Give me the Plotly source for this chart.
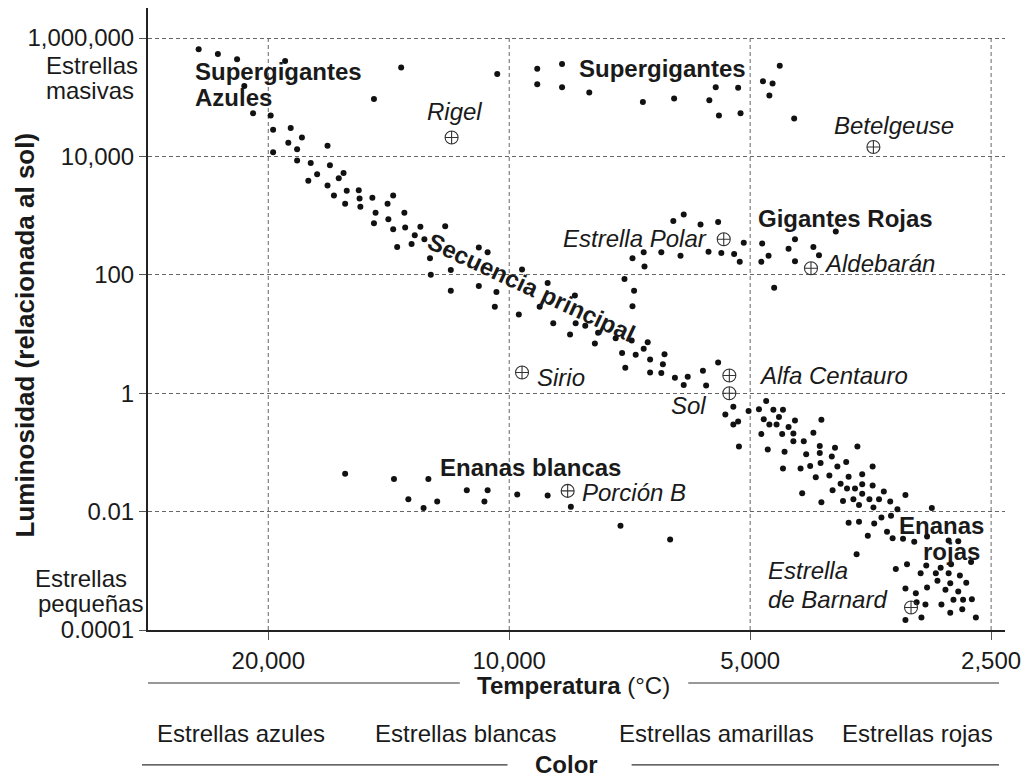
import numpy as np
import plotly.graph_objects as go

FONT = "Liberation Sans, Arial, Helvetica, sans-serif"
INK = "#1a1a1a"

# ---- Readings: log10(temperature) and log10(luminosity / sun) ----
supergiant_logT = [4.388, 4.364, 4.340, 4.280, 4.331, 4.169, 4.135, 4.015, 3.965, 3.934,
                   3.965, 3.934, 3.900, 3.833, 3.794, 3.750, 3.742, 3.714, 3.738, 3.711,
                   3.683, 3.671, 3.675, 3.662, 3.644]
supergiant_logL = [5.81, 5.73, 5.64, 5.61, 5.19, 4.97, 5.50, 5.39, 5.48, 5.56,
                   5.22, 5.17, 5.08, 4.92, 4.98, 4.95, 5.17, 5.16, 4.69, 4.73,
                   5.27, 5.23, 5.03, 5.53, 4.64]

main_seq_logT = [4.320, 4.298, 4.295, 4.273, 4.259, 4.276, 4.265, 4.227, 4.295, 4.265,
                 4.248, 4.224, 4.240, 4.207, 4.213, 4.251, 4.227, 4.203, 4.188, 4.219,
                 4.187, 4.171, 4.145, 4.205, 4.186, 4.152, 4.167, 4.151, 4.169, 4.145,
                 4.140, 4.131, 4.130, 4.111, 4.080, 4.118, 4.106, 4.122, 4.038, 4.027,
                 4.099, 4.098, 4.073, 4.073, 4.038, 4.016, 4.018, 3.988, 3.984, 3.952,
                 3.918, 3.962, 3.945, 3.917, 3.905, 3.889, 3.924, 3.867, 3.847, 3.827,
                 3.893, 3.832, 3.859, 3.842, 3.806, 3.824, 3.808, 3.855, 3.824, 3.810,
                 3.739, 3.758, 3.793, 3.777, 3.782, 3.754,
                 3.730, 3.720, 3.701, 3.688, 3.679, 3.670, 3.658, 3.682, 3.663, 3.643,
                 3.610, 3.720, 3.714, 3.675, 3.666, 3.651, 3.685, 3.659, 3.645, 3.620,
                 3.645, 3.632, 3.713, 3.677, 3.656, 3.612, 3.593, 3.565, 3.629, 3.612,
                 3.597, 3.658, 3.636, 3.624, 3.611, 3.590, 3.579, 3.546, 3.617, 3.600,
                 3.576, 3.559, 3.634, 3.596, 3.586, 3.578, 3.568, 3.559, 3.546, 3.610,
                 3.583, 3.570, 3.559, 3.550, 3.538, 3.532, 3.524, 3.505, 3.563, 3.545,
                 3.515, 3.472, 3.576, 3.563, 3.544, 3.535, 3.523, 3.528, 3.552, 3.521,
                 3.508, 3.494, 3.478, 3.451, 3.439, 3.423, 3.448, 3.566, 3.517, 3.503,
                 3.479, 3.461, 3.486, 3.467, 3.451, 3.437, 3.465, 3.449, 3.429, 3.505,
                 3.492, 3.478, 3.455, 3.439, 3.480, 3.460, 3.445, 3.433, 3.422, 3.505,
                 3.485, 3.449, 3.434, 3.417, 3.491]
main_seq_logL = [4.73, 4.69, 4.45, 4.48, 4.32, 4.23, 4.12, 4.18, 4.07, 3.93,
                 3.89, 3.85, 3.70, 3.72, 3.63, 3.59, 3.51, 3.42, 3.43, 3.34,
                 3.29, 3.30, 3.34, 3.20, 3.15, 3.20, 3.05, 2.94, 2.87, 2.77,
                 2.47, 3.05, 2.80, 2.81, 2.82, 2.67, 2.60, 2.52, 2.46, 2.38,
                 2.28, 2.00, 2.08, 1.73, 1.81, 1.71, 1.46, 1.33, 2.09, 1.86,
                 1.65, 1.46, 1.18, 1.18, 1.14, 1.02, 0.99, 0.93, 0.89, 0.86,
                 0.84, 0.75, 0.68, 0.65, 0.66, 0.57, 0.49, 0.43, 0.35, 0.34,
                 0.52, 0.38, 0.26, 0.28, 0.14, 0.13,
                 -0.36, -0.23, -0.30, -0.27, -0.13, -0.28, -0.28, -0.44, -0.40, -0.46,
                 -0.45, -0.53, -0.48, -0.53, -0.53, -0.57, -0.69, -0.69, -0.68, -0.67,
                 -0.81, -0.81, -0.90, -0.95, -0.99, -0.89, -0.92, -0.90, -1.03, -1.01,
                 -1.07, -1.27, -1.27, -1.23, -1.18, -1.24, -1.16, -1.24, -1.42, -1.39,
                 -1.41, -1.37, -1.69, -1.64, -1.53, -1.61, -1.61, -1.54, -1.56, -1.84,
                 -1.82, -1.79, -1.70, -1.79, -1.79, -1.66, -1.83, -1.72, -1.89, -1.93,
                 -1.96, -1.94, -2.19, -2.17, -2.20, -2.10, -2.07, -2.34, -2.41, -2.45,
                 -2.46, -2.51, -2.42, -2.49, -2.50, -2.85, -2.89, -2.72, -2.97, -2.89,
                 -2.91, -2.95, -3.04, -3.04, -3.04, -3.08, -3.17, -3.21, -3.20, -3.30,
                 -3.38, -3.28, -3.32, -3.35, -3.57, -3.57, -3.49, -3.49, -3.48, -3.83,
                 -3.79, -3.71, -3.65, -3.79, -3.53]

giant_logT = [3.846, 3.831, 3.856, 3.844, 3.846, 3.795, 3.782, 3.761, 3.739, 3.707,
              3.684, 3.643, 3.592, 3.620, 3.651, 3.613, 3.832, 3.810, 3.786, 3.751,
              3.735, 3.719, 3.712, 3.685, 3.676, 3.643, 3.669]
giant_logL = [2.28, 2.14, 1.93, 1.73, 1.47, 2.91, 3.02, 2.85, 2.89, 2.54,
              2.53, 2.60, 2.73, 2.47, 2.44, 2.33, 2.38, 2.38, 2.32, 2.39,
              2.37, 2.35, 2.22, 2.22, 2.32, 2.23, 1.78]

white_dwarf_logT = [4.205, 4.144, 4.101, 4.126, 4.107, 4.090, 4.053, 4.027, 4.031, 3.990,
                    3.952, 3.923, 3.861, 3.799]
white_dwarf_logL = [-1.36, -1.45, -1.45, -1.79, -1.94, -1.83, -1.64, -1.64, -1.83, -1.71,
                    -1.73, -1.92, -2.24, -2.47]

named_stars = ["Rigel", "Betelgeuse", "Estrella Polar", "Aldebarán", "Sirio",
               "Alfa Centauro", "Sol", "Porción B", "Estrella de Barnard"]
named_logT = [4.072, 3.545, 3.732, 3.623, 3.984, 3.725, 3.725, 3.927, 3.498]
named_logL = [4.32, 4.16, 2.60, 2.11, 0.35, 0.30, 0.00, -1.65, -3.62]

temp_ticks = [20000, 10000, 5000, 2500]
temp_tick_text = ["20,000", "10,000", "5,000", "2,500"]
lum_ticks = [1e-4, 1e-2, 1, 1e2, 1e4, 1e6]
lum_tick_text = ["0.0001", "0.01", "1", "100", "10,000", "1,000,000"]
color_classes = ["Estrellas azules", "Estrellas blancas", "Estrellas amarillas", "Estrellas rojas"]

fig = go.Figure()

# vertical dashed grid lines (from the bottom to the 1,000,000 line)
gx, gy = [], []
for t in temp_ticks:
    gx += [t, t, None]
    gy += [min(lum_ticks), max(lum_ticks), None]
fig.add_trace(go.Scatter(x=gx, y=gy, mode="lines", hoverinfo="skip",
                         line=dict(color="#666", width=1, dash="4px,3px")))

groups = [(supergiant_logT, supergiant_logL, "Supergigantes"),
          (main_seq_logT, main_seq_logL, "Secuencia principal"),
          (giant_logT, giant_logL, "Gigantes"),
          (white_dwarf_logT, white_dwarf_logL, "Enanas blancas")]
for lt, ll, name in groups:
    fig.add_trace(go.Scatter(x=10 ** np.array(lt), y=10 ** np.array(ll), mode="markers",
                             name=name, marker=dict(color="#111", size=6, line=dict(width=0))))

fig.add_trace(go.Scatter(x=10 ** np.array(named_logT), y=10 ** np.array(named_logL),
                         mode="markers", text=named_stars, name="Estrellas",
                         marker=dict(symbol="circle-cross-open", size=13, color="#333",
                                     line=dict(width=1.1, color="#333"))))

ann = []


def label(text, x, y, size=24, bold=False, italic=False, xanchor="center", ref="data", angle=0):
    t = text
    if bold:
        t = "<b>" + t + "</b>"
    if italic:
        t = "<i>" + t + "</i>"
    d = dict(text=t, x=x, y=y, showarrow=False, xanchor=xanchor, yanchor="middle",
             font=dict(family=FONT, size=size, color=INK), textangle=angle)
    if ref == "paper":
        d.update(xref="paper", yref="paper")
    else:
        d.update(xref="x", yref="y")
    ann.append(d)


# region labels (positions in log10 axis units)
label("Supergigantes", 4.3954, 5.426, bold=True, xanchor="left")
label("Azules", 4.3954, 5.003, bold=True, xanchor="left")
label("Supergigantes", 3.8085, 5.493, bold=True)
label("Gigantes Rojas", 3.580, 2.943, bold=True)
label("Secuencia principal", 3.972, 1.794, bold=True, angle=25)
label("Enanas blancas", 3.973, -1.247, bold=True)
label("Enanas", 3.4594, -2.243, bold=True)
label("rojas", 3.447, -2.666, bold=True)

# star names
label("Rigel", 4.0681, 4.767, italic=True)
label("Betelgeuse", 3.5196, 4.53, italic=True)
label("Estrella Polar", 3.7507, 2.605, italic=True, xanchor="right")
label("Aldebarán", 3.6091, 2.199, italic=True, xanchor="left")
label("Sirio", 3.968, 0.257, italic=True, xanchor="left")
label("Alfa Centauro", 3.691, 0.307, italic=True, xanchor="left")
label("Sol", 3.7519, -0.216, italic=True, xanchor="right")
label("Porción B", 3.911, -1.669, italic=True, xanchor="left")
label("Estrella", 3.6786, -3.003, italic=True, xanchor="left")
label("de Barnard", 3.6786, -3.493, italic=True, xanchor="left")

# side labels of the luminosity axis
label("Estrellas", -0.1217, 0.9068, xanchor="left", ref="paper")
label("masivas", -0.1217, 0.8666, xanchor="left", ref="paper")
label("Estrellas", -0.1344, 0.0836, xanchor="left", ref="paper")
label("pequeñas", -0.1309, 0.0434, xanchor="left", ref="paper")
label("Luminosidad (relacionada al sol)", -0.1437, 0.475, size=26, bold=True,
      ref="paper", angle=-90)

# temperature and colour rows
label("<b>Temperatura</b> (°C)", 0.4965, -0.090, ref="paper")
color_x = [0.1089, 0.3708, 0.6634, 0.898]
for name, cx in zip(color_classes, color_x):
    label(name, cx, -0.1672, ref="paper")
label("Color", 0.4878, -0.217, bold=True, ref="paper")

shapes = []
for x0, x1, y in [(0.0, 0.3638, -0.0852), (0.6304, 0.993, -0.0852),
                  (-0.007, 0.4195, -0.217), (0.5643, 0.993, -0.217)]:
    shapes.append(dict(type="line", xref="paper", yref="paper", x0=x0, x1=x1, y0=y, y1=y,
                       line=dict(color="#333", width=1.2)))

fig.update_layout(
    width=1029, height=777,
    margin=dict(l=148, r=18, t=8, b=147),
    paper_bgcolor="white", plot_bgcolor="white",
    showlegend=False,
    font=dict(family=FONT, size=24, color=INK),
    annotations=ann, shapes=shapes,
    xaxis=dict(type="log", range=[4.4513, 3.3806], tickvals=temp_ticks, ticktext=temp_tick_text,
               ticks="outside", ticklen=8, tickcolor="#555", tickwidth=1,
               showline=True, linecolor="#222", linewidth=2, showgrid=False, zeroline=False,
               tickfont=dict(family=FONT, size=24, color=INK)),
    yaxis=dict(type="log", range=[-4, 6.507], tickvals=lum_ticks, ticktext=lum_tick_text,
               ticks="outside", ticklen=7, tickcolor="#555", tickwidth=1,
               showline=True, linecolor="#222", linewidth=2,
               showgrid=True, gridcolor="#666", gridwidth=1, griddash="4px,3px", zeroline=False,
               tickfont=dict(family=FONT, size=24, color=INK)),
)

fig.write_html("out.html")
